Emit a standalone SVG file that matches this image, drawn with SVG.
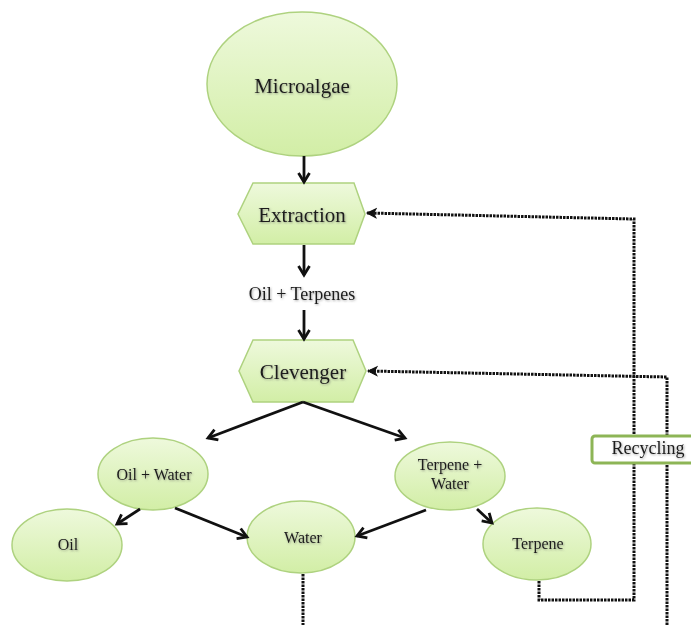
<svg xmlns="http://www.w3.org/2000/svg" width="691" height="625" viewBox="0 0 691 625">
<defs>
  <linearGradient id="g" x1="0" y1="0" x2="0" y2="1">
    <stop offset="0" stop-color="#eef9dc"/>
    <stop offset="1" stop-color="#d2eea6"/>
  </linearGradient>
  <filter id="sh" x="-10%" y="-30%" width="120%" height="160%">
    <feDropShadow dx="0.8" dy="1" stdDeviation="0.9" flood-color="#555" flood-opacity="0.55"/>
  </filter>
  <marker id="ar" markerUnits="userSpaceOnUse" markerWidth="14" markerHeight="14" refX="11" refY="7" orient="auto">
    <path d="M2,1.5 L11,7 L2,12.5" fill="none" stroke="#111" stroke-width="2.8" stroke-linejoin="miter"/>
  </marker>
  <marker id="ad" markerUnits="userSpaceOnUse" markerWidth="12" markerHeight="12" refX="10" refY="6" orient="auto">
    <path d="M1,1.5 L10,6 L1,10.5 L3.5,6 z" fill="#111" stroke="#111" stroke-width="1"/>
  </marker>
  <style>
    .n { fill: url(#g); stroke: #aed27f; stroke-width: 1.5; }
    .t { font-family: "Liberation Serif", "Times New Roman", serif; fill: #1a1a1a; text-anchor: middle; filter: url(#sh); }
    .big { font-size: 21px; }
    .sm { font-size: 16px; }
    .c { fill: none; stroke: #111; stroke-width: 2.8; }
    .d { fill: none; stroke: #111; stroke-width: 3; stroke-dasharray: 2.5 1; }
  </style>
</defs>

<g id="microalgae">
  <ellipse class="n" cx="302" cy="84" rx="95" ry="72"/>
  <text class="t big" x="302" y="93">Microalgae</text>
</g>

<g id="extraction">
  <polygon class="n" points="253,183 354,183 365,214 354,244 253,244 238,214"/>
  <text class="t big" x="302" y="222">Extraction</text>
</g>

<g id="oil-terpenes">
  <text class="t" style="font-size:18px" x="302" y="300">Oil + Terpenes</text>
</g>

<g id="clevenger">
  <polygon class="n" points="253,340 353,340 366,371 353,402 253,402 239,371"/>
  <text class="t big" x="303" y="379">Clevenger</text>
</g>

<g id="oil-water">
  <ellipse class="n" cx="153" cy="474" rx="55" ry="36"/>
  <text class="t sm" x="154" y="480">Oil + Water</text>
</g>

<g id="terpene-water">
  <ellipse class="n" cx="450" cy="476" rx="55" ry="34"/>
  <text class="t sm" x="450" y="470">Terpene +</text>
  <text class="t sm" x="450" y="489">Water</text>
</g>

<g id="oil">
  <ellipse class="n" cx="67" cy="545" rx="55" ry="36"/>
  <text class="t sm" x="68" y="550">Oil</text>
</g>

<g id="water">
  <ellipse class="n" cx="301" cy="537" rx="54" ry="36"/>
  <text class="t sm" x="303" y="543">Water</text>
</g>

<g id="terpene">
  <ellipse class="n" cx="537" cy="544" rx="54" ry="36"/>
  <text class="t sm" x="538" y="549">Terpene</text>
</g>

<g id="connectors">
  <line class="c" x1="304" y1="156" x2="304" y2="182" marker-end="url(#ar)"/>
  <line class="c" x1="304" y1="245" x2="304" y2="275" marker-end="url(#ar)"/>
  <line class="c" x1="304" y1="310" x2="304" y2="339" marker-end="url(#ar)"/>
  <line class="c" x1="303" y1="402" x2="208" y2="438" marker-end="url(#ar)"/>
  <line class="c" x1="303" y1="402" x2="405" y2="438" marker-end="url(#ar)"/>
  <line class="c" x1="140" y1="509" x2="117" y2="524" marker-end="url(#ar)"/>
  <line class="c" x1="175" y1="508" x2="247" y2="537" marker-end="url(#ar)"/>
  <line class="c" x1="426" y1="510" x2="357" y2="536" marker-end="url(#ar)"/>
  <line class="c" x1="477" y1="509" x2="492" y2="523" marker-end="url(#ar)"/>
  <path class="d" d="M539,581 V600 H634 V219 L367,213" marker-end="url(#ad)"/>
  <path class="d" d="M667,625 V377 L368,371" marker-end="url(#ad)"/>
  <path class="d" d="M303,574 V625"/>
</g>

<g id="recycling">
  <rect x="592" y="436" width="112" height="27" rx="3" fill="#fff" stroke="#8db556" stroke-width="3"/>
  <text class="t" style="font-size:18px" x="648" y="454">Recycling</text>
</g>
</svg>
